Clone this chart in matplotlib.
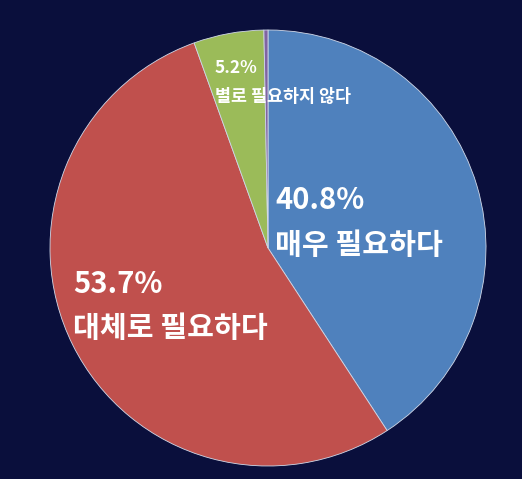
import matplotlib
matplotlib.use("Agg")
import matplotlib.pyplot as plt

plt.rcParams['font.family'] = ['Noto Sans CJK KR', 'DejaVu Sans']

labels = ["매우 필요하다", "대체로 필요하다", "별로 필요하지 않다", "기타"]
values = [40.8, 53.7, 5.2, 0.3]
colors = ["#4F81BD", "#C0504D", "#9BBB59", "#8064A2"]

W, H = 522, 479
fig = plt.figure(figsize=(W/100, H/100), dpi=100)
fig.patch.set_facecolor("#0a0f3c")
cx, cy, r = 268, 248, 218
ax = fig.add_axes([(cx-r)/W, (H-cy-r)/H, 2*r/W, 2*r/H])
ax.set_facecolor("none")
ax.pie(values, colors=colors, startangle=90, counterclock=False, radius=1,
       wedgeprops=dict(edgecolor="#d0d8e8", linewidth=0.6))
ax.set_xlim(-1, 1); ax.set_ylim(-1, 1); ax.set_aspect("equal"); ax.axis("off")

def T(px, py, s, fs):
    ax.text((px-cx)/r, (cy-py)/r, s, color="white", fontsize=fs, fontweight="bold",
            ha="left", va="center")

T(275, 200, f"{values[0]}%", 21)
T(275, 245, labels[0], 21)
T(73, 284, f"{values[1]}%", 21)
T(73, 328, labels[1], 21)
T(215, 68, f"{values[2]}%", 12.5)
T(215, 97, labels[2], 12.5)

fig.savefig("out.png", dpi=100, facecolor=fig.get_facecolor())
